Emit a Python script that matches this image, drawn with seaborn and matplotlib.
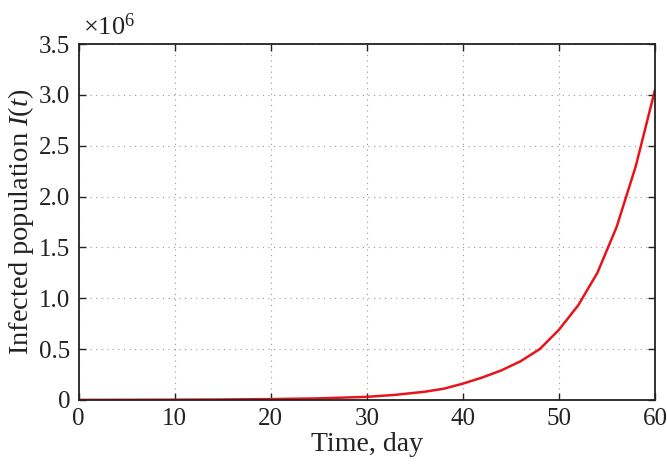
import numpy as np
import pandas as pd
import matplotlib
matplotlib.use("Agg")
import matplotlib.pyplot as plt
import seaborn as sns

# Werte (I in Millionen)
time_day = [0, 5, 10, 15, 20, 25, 30, 33, 36, 38, 40, 42, 44, 46, 48, 50, 52, 54, 56, 58, 60]
infected_mio = [0.0, 0.001, 0.002, 0.004, 0.008, 0.015, 0.03, 0.05, 0.08, 0.11, 0.16,
                0.22, 0.29, 0.38, 0.50, 0.69, 0.93, 1.25, 1.70, 2.30, 3.05]
x_ticks = [0, 10, 20, 30, 40, 50, 60]
y_ticks = [0, 0.5, 1.0, 1.5, 2.0, 2.5, 3.0, 3.5]
y_ticklabels = ["0", "0.5", "1.0", "1.5", "2.0", "2.5", "3.0", "3.5"]

sns.set_style("ticks")
plt.rcParams["font.family"] = ["Liberation Serif", "DejaVu Serif"]
plt.rcParams["mathtext.fontset"] = "custom"
plt.rcParams["mathtext.rm"] = "Liberation Serif"
plt.rcParams["mathtext.it"] = "Liberation Serif:italic"

df = pd.DataFrame({"t": time_day, "I": infected_mio})

fig = plt.figure(figsize=(6.67, 4.65), dpi=100)
ax = fig.add_axes([0.118, 0.140, 0.864, 0.765])

sns.lineplot(data=df, x="t", y="I", color="#e8141c", linewidth=1.8, ax=ax)

ax.set_xlim(0, 60)
ax.set_ylim(0, 3.5)
ax.set_xticks(x_ticks)
ax.set_yticks(y_ticks)
ax.set_yticklabels(y_ticklabels)
ax.grid(True, linestyle=(0, (1, 4)), color="#999999", linewidth=0.8)
ax.tick_params(direction="in", top=True, right=True, labelsize=18, length=5,
               width=1.0, pad=6, colors="#222222", labelcolor="#222222")
for s in ax.spines.values():
    s.set_linewidth(1.3)
    s.set_color("#222222")

ax.set_xlabel("Time, day", fontsize=20, labelpad=1, color="#222222")
ax.set_ylabel("Infected population $I(t)$", fontsize=20.5, color="#222222")
# Label etwas nach rechts, damit nichts abgeschnitten wird
ax.yaxis.set_label_coords(-0.074, 0.5)
ax.text(0.007, 1.025, r"$\times\mathregular{10^6}$", transform=ax.transAxes,
        fontsize=19, ha="left", va="baseline", color="#222222")

plt.savefig("out.png", dpi=100)
